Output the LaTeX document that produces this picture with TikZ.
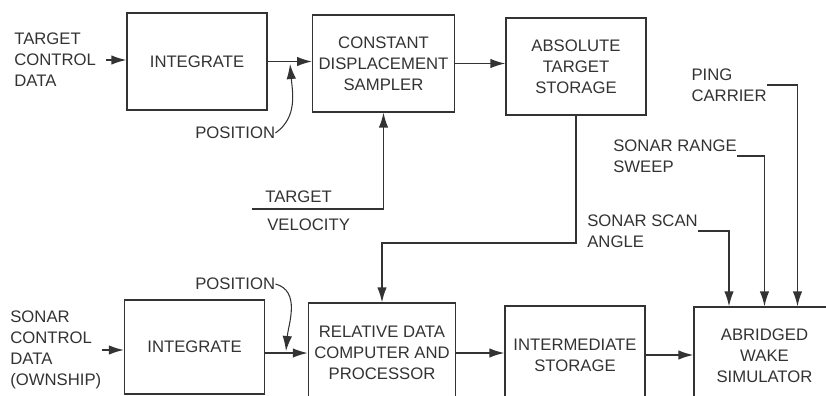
\documentclass[tikz,border=0pt]{standalone}
\usepackage{fontspec}
\setmainfont{Liberation Sans}
\usepackage{tikz}
\usetikzlibrary{arrows.meta,positioning}

\begin{document}
\begin{tikzpicture}[
  x=0.02cm, y=-0.02cm,
  blk/.style={draw=black!80, line width=0.8pt, align=center,
              text=black!80, font=\fontsize{9.5}{12}\selectfont,
              minimum width=2.8cm, minimum height=1.94cm},
  lbl/.style={align=left, inner sep=0pt, text=black!80,
              font=\fontsize{9.5}{12}\selectfont},
  arr/.style={-{Latex[length=3mm,width=1.9mm]}, draw=black!80, line width=0.8pt},
]
  \useasboundingbox (0,0) rectangle (826,396);
  \clip (0,0) rectangle (826,396);

  %% ---- TARGET CHAIN ----
  \node[blk] (intA) at (197,61.5) {INTEGRATE};
  \node[blk] (cds)  at (383.5,63.5) {CONSTANT\\DISPLACEMENT\\SAMPLER};
  \node[blk] (ats)  at (576,66.5) {ABSOLUTE\\TARGET\\STORAGE};

  \node[lbl, anchor=west] (tcd) at (14,60) {TARGET\\CONTROL\\DATA};
  \draw[arr] ([xshift=0.2cm]tcd.east) -- (tcd.east -| intA.west);
  \draw[arr] (intA.east) -- (intA.east -| cds.west);
  \draw[arr] (cds.east) -- (cds.east -| ats.west);

  \node[lbl, anchor=west] (posA) at (195,133) {POSITION};
  \coordinate (pA) at (290,64);
  \draw[arr, line width=0.6pt] (posA.east) to[out=35, in=-85] (pA);

  \node[lbl, anchor=west] (tvA) at (265,197) {TARGET};
  \node[lbl, anchor=west] (tvB) at (267,225) {VELOCITY};
  \coordinate (tv) at (252,209);
  \draw[arr] (tv) -| (cds.south);

  %% ---- SONAR CHAIN ----
  \node[blk, minimum height=1.88cm] (intB) at (194.5,347) {INTEGRATE};
  \node[blk, minimum height=2.0cm]  (rdcp) at (382,353) {RELATIVE DATA\\COMPUTER AND\\PROCESSOR};
  \node[blk, minimum height=1.96cm] (ims)  at (575,355) {INTERMEDIATE\\STORAGE};
  \node[blk, minimum height=1.96cm, minimum width=2.82cm] (aws) at (764.5,356) {ABRIDGED\\WAKE\\SIMULATOR};

  \node[lbl, anchor=west] (scd) at (10,350) {SONAR\\CONTROL\\DATA\\(OWNSHIP)};
  \draw[arr] (scd.east) -- (scd.east -| intB.west);
  \draw[arr] (intB.east |- rdcp.west) -- (rdcp.west);
  \draw[arr] (rdcp.east) -- (rdcp.east -| ims.west);
  \draw[arr] (ims.east) -- (ims.east -| aws.west);

  \node[lbl, anchor=west] (posB) at (195,284) {POSITION};
  \coordinate (pB) at (286,351);
  \draw[arr, line width=0.6pt] (posB.east) to[out=-15, in=85] (pB);

  \coordinate (turn) at (382,243);
  \draw[arr] (ats.south) |- (turn) -- (rdcp.north);

  %% ---- SIMULATOR INPUTS ----
  \node[lbl, anchor=east] (ping)  at (767,85) {PING\\CARRIER};
  \node[lbl, anchor=west] (sweep) at (613,156) {SONAR RANGE\\SWEEP};
  \node[lbl, anchor=west] (scan)  at (587,231) {SONAR SCAN\\ANGLE};
  \draw[arr] (ping.east) -| ([xshift=0.66cm]aws.north);
  \draw[arr] (sweep.east) -| (aws.north);
  \draw[arr] (scan.east) -| ([xshift=-0.71cm]aws.north);
\end{tikzpicture}
\end{document}
